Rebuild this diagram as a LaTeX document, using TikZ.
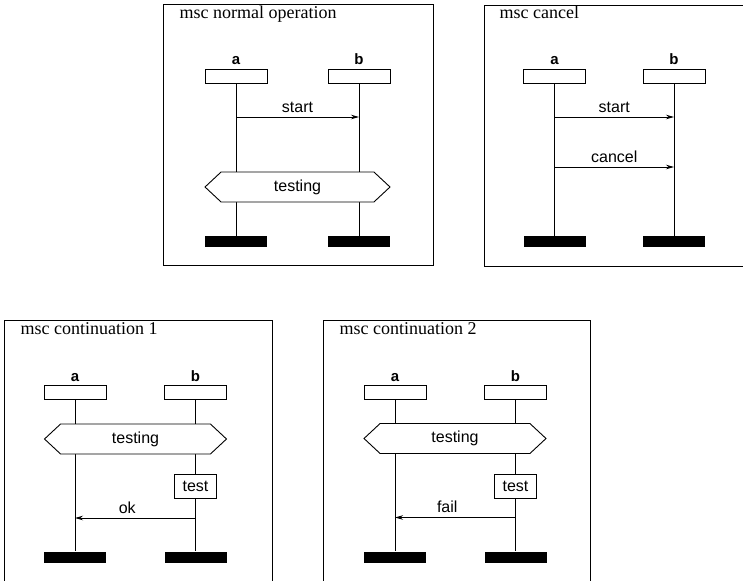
\documentclass[tikz,border=0pt]{standalone}
\usepackage{fontspec}
\setmainfont{Liberation Serif}
\setsansfont{Liberation Sans}
\usetikzlibrary{shapes.symbols,arrows.meta}
\tikzset{
  mscframe/.style={draw, line width=1.3pt, inner sep=0pt},
  title/.style={font=\rmfamily\fontsize{18}{18}\selectfont, inner sep=0pt, anchor=base west},
  ilbl/.style={font=\sffamily\bfseries\fontsize{15}{15}\selectfont, inner sep=0pt},
  lbl/.style={font=\sffamily\fontsize{16}{16}\selectfont, inner sep=0pt},
  inst/.style={draw, line width=0.9pt, minimum width=62pt, minimum height=14pt, inner sep=0pt},
  endbar/.style={fill=black, minimum width=62pt, minimum height=11pt, inner sep=0pt},
  cond/.style={signal, signal to=west and east, draw, fill=white, line width=0.9pt,
    minimum height=30pt, signal pointer angle=86, inner sep=0pt,
    font=\sffamily\fontsize{16}{16}\selectfont},
  actbox/.style={draw, fill=white, line width=0.9pt, minimum width=42pt, minimum height=24pt,
    inner sep=0pt, font=\sffamily\fontsize{16}{16}\selectfont},
  lifeline/.style={line width=0.9pt},
  msg/.style={line width=0.8pt, -{Stealth[length=8pt,width=4.5pt]}}
}
\begin{document}
\begin{tikzpicture}[x=1pt,y=-1pt]
\useasboundingbox (0,0) rectangle (743,580);
\clip (0,0) rectangle (743,580);
\fill[white] (0,0) rectangle (743,580);

% ---------- top-left: normal operation ----------
\node[mscframe, minimum width=270pt, minimum height=261pt, anchor=north west] (f1) at (163,4) {};
\node[title] (t1) at (179.5,19) {msc normal operation};
\node[inst] (tla) at (236,76) {};
\node[inst] (tlb) at (359,76) {};
\node[ilbl, above=3.5pt] (tlla) at (tla.north) {a};
\node[ilbl, above=3.5pt] (tllb) at (tlb.north) {b};
\node[endbar] (tlea) at (236,241.5) {};
\node[endbar] (tleb) at (359,241.5) {};
\draw[lifeline] (tla.south) -- (tlea.north);
\draw[lifeline] (tlb.south) -- (tleb.north);
\coordinate (tlm1s) at (236,117);
\coordinate (tlm1e) at (359,117);
\draw[msg] (tlm1s) -- node[lbl, above=4pt] (tlml1) {start} (tlm1e);
\node[cond, minimum width=185pt] (tlc) at (297.5,187) {testing};

% ---------- top-right: cancel ----------
\node[mscframe, minimum width=264pt, minimum height=261pt, anchor=north west] (f2) at (484,5) {};
\node[title] (t2) at (499.5,19) {msc cancel};
\node[inst] (tra) at (554.5,76) {};
\node[inst] (trb) at (674,76) {};
\node[ilbl, above=3.5pt] (trla) at (tra.north) {a};
\node[ilbl, above=3.5pt] (trlb) at (trb.north) {b};
\node[endbar] (trea) at (554.5,241.5) {};
\node[endbar] (treb) at (674,241.5) {};
\draw[lifeline] (tra.south) -- (trea.north);
\draw[lifeline] (trb.south) -- (treb.north);
\coordinate (trm1s) at (554.5,117);
\coordinate (trm1e) at (674,117);
\coordinate (trm2s) at (554.5,167);
\coordinate (trm2e) at (674,167);
\draw[msg] (trm1s) -- node[lbl, above=4pt] (trml1) {start} (trm1e);
\draw[msg] (trm2s) -- node[lbl, above=4pt] (trml2) {cancel} (trm2e);

% ---------- bottom-left: continuation 1 ----------
\node[mscframe, minimum width=268pt, minimum height=300pt, anchor=north west] (f3) at (4,320) {};
\node[title] (t3) at (20.5,334) {msc continuation 1};
\node[inst] (bla) at (75,392.5) {};
\node[inst] (blb) at (195.5,392.5) {};
\node[ilbl, above=3.5pt] (blla) at (bla.north) {a};
\node[ilbl, above=3.5pt] (bllb) at (blb.north) {b};
\node[endbar] (blea) at (75,557) {};
\node[endbar] (bleb) at (195.5,557) {};
\draw[lifeline] (bla.south) -- (blea.north);
\draw[lifeline] (blb.south) -- (bleb.north);
\node[cond, minimum width=182pt] (blc) at (135.5,439) {testing};
\node[actbox] (blt) at (195.5,486) {test};
\coordinate (blm1s) at (195.5,518);
\coordinate (blm1e) at (75,518);
\draw[msg] (blm1s) -- node[lbl, above=4pt, xshift=-8pt] (blml1) {ok} (blm1e);

% ---------- bottom-right: continuation 2 ----------
\node[mscframe, minimum width=267pt, minimum height=300pt, anchor=north west] (f4) at (323,320) {};
\node[title] (t4) at (339.5,334) {msc continuation 2};
\node[inst] (bra) at (395,392.5) {};
\node[inst] (brb) at (515.5,392.5) {};
\node[ilbl, above=3.5pt] (brla) at (bra.north) {a};
\node[ilbl, above=3.5pt] (brlb) at (brb.north) {b};
\node[endbar] (brea) at (395,557) {};
\node[endbar] (breb) at (515.5,557) {};
\draw[lifeline] (bra.south) -- (brea.north);
\draw[lifeline] (brb.south) -- (breb.north);
\node[cond, minimum width=182pt] (brc) at (455,438.5) {testing};
\node[actbox] (brt) at (515.5,486) {test};
\coordinate (brm1s) at (515.5,517.5);
\coordinate (brm1e) at (395,517.5);
\draw[msg] (brm1s) -- node[lbl, above=4pt, xshift=-8pt] (brml1) {fail} (brm1e);
\end{tikzpicture}
\end{document}
